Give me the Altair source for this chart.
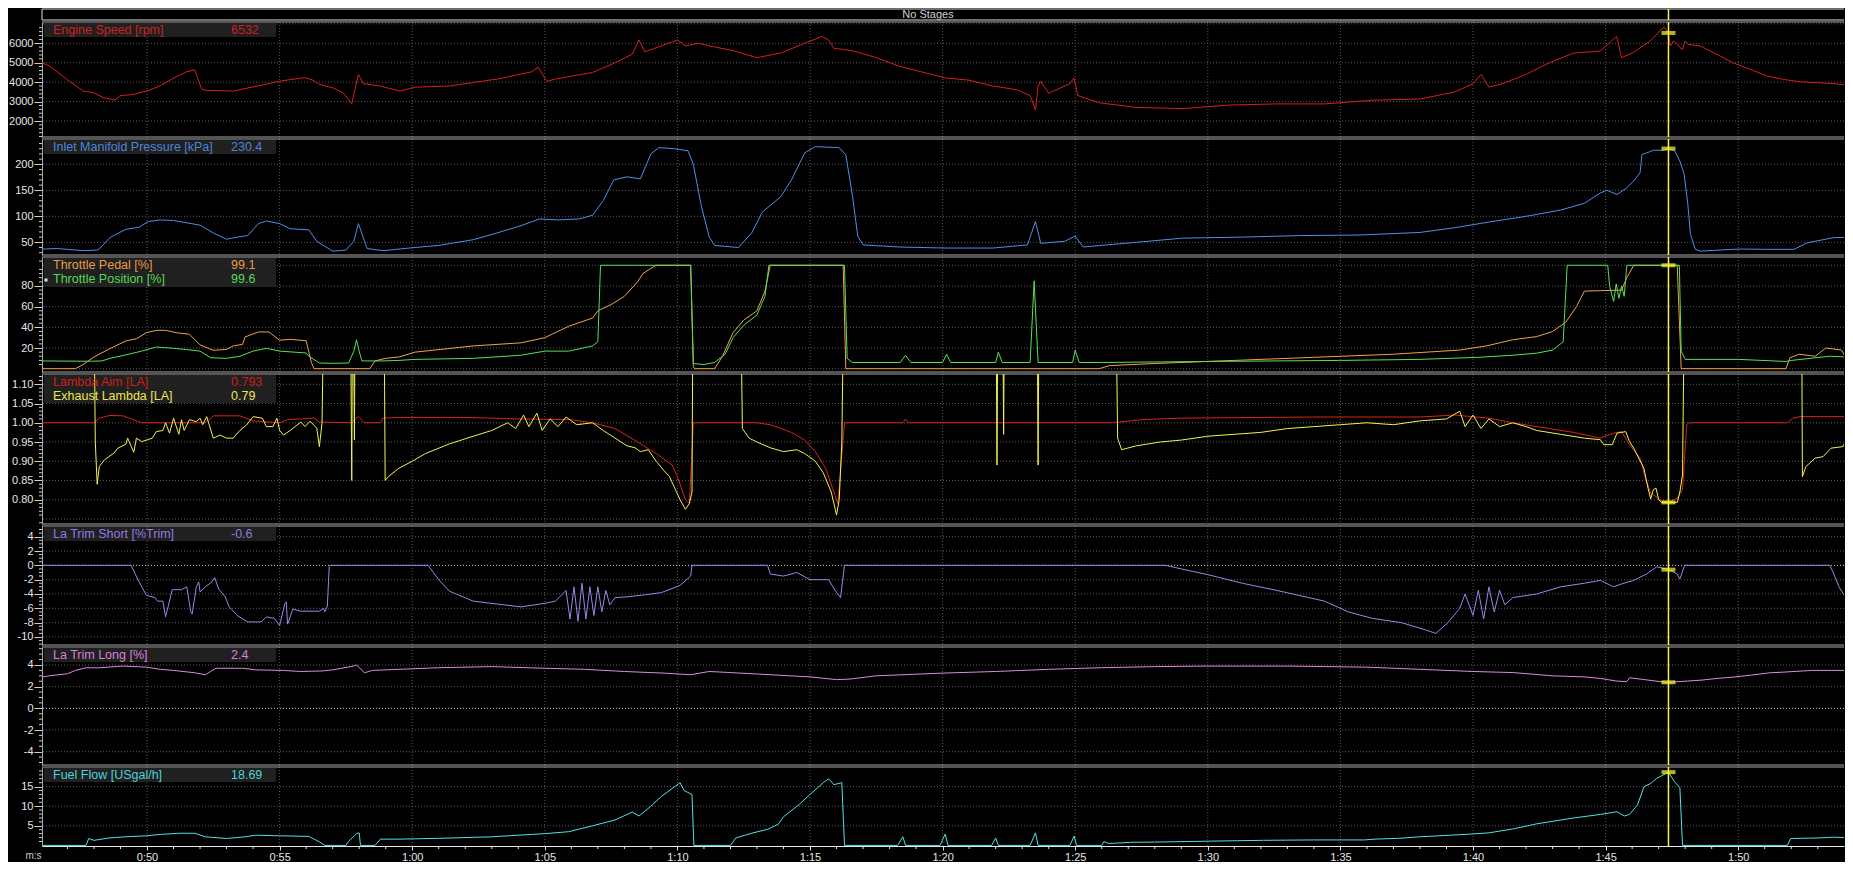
import altair as alt
import pandas as pd

# ---------------- data: (time in s, value) ----------------
RPM = [(46.04,5000),(46.34,4820),(46.97,4150),(47.6,3540),(47.98,3460),(48.36,3200),(48.8,3080),(48.98,3300),
       (49.48,3370),(49.98,3540),(50.48,3800),(50.99,4200),(51.5,4540),(51.8,4630),(52.06,3640),(52.2,3580),
       (53.25,3540),(53.8,3700),(54.5,3900),(55.0,4050),(55.5,4150),(55.96,4230),(56.26,4100),(56.5,3880),
       (57.0,3710),(57.4,3450),(57.72,2890),(57.97,4400),(58.16,3920),(58.79,3800),(59.54,3540),(60.1,3740),
       (61.4,3800),(63.2,4160),(64.5,4530),(64.75,4770),(65.07,4040),(65.4,4160),(66.8,4500),(67.65,5000),
       (68.3,5440),(68.55,6170),(68.77,5560),(69.4,5870),(70.0,6170),(70.3,5870),(70.8,6000),(71.2,5870),
       (72.1,5620),(73.0,5260),(73.9,5500),(74.8,6000),(75.45,6350),(75.7,6170),(75.9,5740),(76.6,5620),
       (77.5,5260),(78.35,4830),(79.2,4530),(80.1,4220),(81.0,4100),(81.9,3800),(82.8,3610),(83.3,3310),
       (83.5,2580),(83.6,3800),(83.7,4040),(84.0,3430),(84.8,3920),(84.95,4220),(85.1,3310),(85.9,2940),
       (87.3,2700),(89.05,2640),(90.8,2820),(92.6,2880),(94.4,2880),(96.2,3070),(98.0,3130),(99.3,3490),
       (100.0,3920),(100.3,4400),(100.6,3740),(101.1,3920),(102.0,4400),(102.9,5010),(103.8,5500),(104.8,5600),
       (105.36,6290),(105.42,6340),(105.6,5260),(106.04,5520),(106.68,6120),(107.2,6840),(107.37,6532),
       (107.44,5860),(107.56,6120),(107.7,5950),(107.8,5780),(107.9,5690),(108.0,6120),(108.1,5950),
       (108.57,5860),(109.2,5430),(109.8,5000),(110.45,4660),(111.1,4310),(111.7,4140),(112.34,4020),
       (113.0,3970),(113.6,3930),(114.34,3800)]

MAP = [(46.04,37),(46.6,38),(47.6,34),(48.1,35),(48.2,37),(48.6,59),(49.2,75),(49.7,79),(50.05,90),(50.5,93),
       (51.0,92),(52.0,83),(52.5,68),(53.0,56),(53.4,60),(53.8,63),(54.2,86),(54.5,91),(55.0,86),(55.4,76),
       (56.1,74),(56.4,52),(57.0,33),(57.5,35),(57.8,52),(57.97,86),(58.3,38),(58.9,34),(59.5,37),(60.1,40),
       (61.0,44),(62.3,55),(63.2,68),(64.1,82),(64.8,95),(65.5,93),(66.3,95),(66.8,102),(67.2,130),(67.6,170),
       (68.1,176),(68.6,172),(69.0,220),(69.3,232),(69.9,230),(70.4,226),(70.6,200),(70.9,120),(71.2,60),
       (71.4,44),(72.3,40),(72.8,68),(73.2,108),(73.9,138),(74.3,170),(74.8,222),(75.2,234),(76.1,232),
       (76.35,218),(76.6,140),(76.8,62),(77.0,45),(78.35,41),(80.1,39),(81.9,39),(83.2,45),(83.5,90),(83.7,48),
       (84.6,52),(85.0,62),(85.3,41),(86.4,46),(87.3,50),(89.05,58),(91.3,60),(93.5,63),(95.7,64),(98.0,69),
       (99.3,78),(100.6,89),(102.0,100),(103.3,112),(104.2,125),(104.8,145),(105.05,150),(105.43,142),
       (105.8,155),(106.06,168),(106.3,184),(106.37,219),(106.55,222),(106.8,227),(107.18,227),(107.37,230.4),
       (107.6,226),(107.8,206),(107.96,181),(108.1,123),(108.2,65),(108.38,36.5),(108.57,33),(109.8,36.5),
       (110.1,37),(111.1,36.5),(112.1,36.5),(112.6,49),(113.6,59),(114.1,59.5),(114.34,57)]

PEDAL = [(46.04,0),(47.3,0),(47.6,4.2),(48.0,11.3),(48.6,19.4),(49.2,26.8),(49.6,29),(49.98,34.8),(50.35,37.1),
         (50.7,37.1),(51.1,34.8),(51.6,33.3),(52.0,23),(52.5,17.8),(53.0,18.7),(53.25,22),(53.6,23.5),(53.7,30.7),
         (54.2,35.5),(54.6,35.5),(55.0,27.5),(55.4,28.4),(56.0,27),(56.2,5.8),(56.3,0),(58.4,0),(58.6,7.5),
         (59.0,10),(59.5,11.3),(60.1,16),(62.3,22),(64.1,25),(65.0,30),(65.9,41),(66.8,49),(67.0,56),(67.5,62),
         (68.0,70),(68.5,84),(68.7,92),(69.0,97),(69.2,100),(70.5,100),(70.6,2),(70.65,0),(71.4,0),(71.7,12),
         (72.1,35),(72.5,47),(73.0,56),(73.3,75),(73.5,100),(76.25,100),(76.35,0),(85.9,0),(86.3,3),(88.0,5),
         (91.0,8),(94.0,11),(97.0,14),(99.5,18),(100.5,22),(101.5,28),(102.4,31),(103.0,36),(103.5,45),
         (103.9,60),(104.2,75),(105.6,76),(105.8,88),(106.06,100),(107.7,100),(107.85,0),(111.8,0),(111.95,10.6),
         (112.3,14),(112.9,12),(113.3,20),(113.9,18),(114.1,8),(114.34,6)]

POSITION = [(46.04,7.5),(47.9,7.2),(48.3,7.5),(48.6,10),(49.2,13.3),(49.8,17),(50.35,21),(51.0,19.7),(51.5,18.5),
            (52.0,17),(52.4,10.6),(53.0,10),(53.5,12),(54.0,17),(54.5,19.7),(55.0,17),(56.0,15.2),(56.1,12),
            (56.5,5.5),(57.0,5.2),(57.6,5.5),(57.8,17),(57.9,28),(58.0,17),(58.1,7.5),(58.9,7.5),(59.5,8),
            (60.1,9),(62.3,10),(64.1,13),(65.0,17),(65.9,17),(66.8,22),(67.0,26),(67.1,100),(70.5,100),(70.6,5),
            (71.0,4),(71.4,6),(71.8,14),(72.1,30),(72.5,42),(73.0,52),(73.3,70),(73.45,100),(76.3,100),(76.4,10),
            (76.6,6),(78.4,6),(78.6,13),(78.8,6),(80.0,6),(80.15,14),(80.3,6),(82.0,6),(82.1,16),(82.25,6),
            (83.3,6),(83.45,85),(83.6,6),(84.9,6),(85.0,18),(85.15,6),(86.0,6),(90.0,7),(95.0,8),(98.0,9),
            (100.2,11),(101.5,13),(102.4,15),(103.0,18),(103.4,26),(103.55,100),(105.08,100),(105.15,80),
            (105.3,65),(105.4,82),(105.5,68),(105.6,80),(105.7,70),(105.8,100),(107.78,100),(107.85,17),
            (108.0,9),(110.0,9),(111.8,7),(112.0,8),(113.45,12),(114.34,11)]

LAMBDA_AIM = [(46.04,1.0),(48.0,1.0),(48.2,1.012),(48.6,1.019),(49.1,1.018),(49.6,1.005),(49.8,1.0),(52.2,1.0),
              (52.5,1.018),(53.5,1.018),(54.0,1.005),(55.0,1.0),(55.3,1.008),(55.8,1.01),(56.3,1.012),(56.5,1.002),
              (57.7,1.0),(57.97,1.016),(58.2,1.0),(58.8,1.0),(58.9,1.012),(59.5,1.014),(62.0,1.014),(64.0,1.01),
              (66.0,1.008),(66.8,1.0),(67.65,0.985),(68.5,0.95),(69.2,0.92),(69.6,0.9),(69.8,0.89),(70.0,0.86),
              (70.3,0.80),(70.45,0.79),(70.6,1.0),(73.0,1.0),(73.5,0.995),(74.3,0.975),(74.8,0.955),(75.2,0.925),
              (75.6,0.88),(75.9,0.82),(76.05,0.79),(76.3,1.0),(78.5,1.0),(78.6,1.01),(78.7,1.0),(86.4,1.0),
              (87.5,1.008),(89.0,1.012),(94.0,1.015),(98.0,1.015),(99.3,1.02),(100.6,1.012),(101.5,1.0),
              (102.4,0.99),(103.8,0.975),(104.8,0.96),(105.3,0.973),(105.6,0.977),(105.9,0.943),(106.3,0.908),
              (106.5,0.856),(106.7,0.817),(106.9,0.808),(107.1,0.797),(107.37,0.793),(107.7,0.804),(107.9,0.826),
              (107.96,0.89),(108.06,0.995),(108.15,1.0),(111.86,1.0),(112.05,1.012),(112.36,1.016),(114.34,1.016)]

# 1.5 = reading above the top of the scale (off the panel)
EXHAUST_LAMBDA = [(46.04,1.5),(47.97,1.5),(48.05,0.95),(48.12,0.84),(48.2,0.886),(48.4,0.904),(48.75,0.921),
                  (48.9,0.934),(49.2,0.944),(49.27,0.96),(49.5,0.923),(49.6,0.96),(49.8,0.951),(50.2,0.96),
                  (50.35,0.977),(50.6,0.98),(50.7,1.0),(50.85,0.973),(51.0,1.012),(51.2,0.97),(51.3,1.008),
                  (51.4,0.98),(51.6,1.008),(51.85,1.003),(52.0,1.012),(52.1,0.995),(52.25,1.016),(52.5,0.96),
                  (52.75,0.968),(53.0,0.96),(53.25,0.96),(53.5,0.98),(53.75,0.994),(54.0,1.016),(54.35,1.012),
                  (54.5,0.99),(54.75,0.99),(54.9,1.012),(55.0,0.98),(55.15,0.968),(55.4,0.98),(55.8,1.002),
                  (55.96,0.99),(56.15,1.004),(56.4,0.986),(56.5,0.938),(56.6,1.0),(56.7,1.5),(57.65,1.5),
                  (57.72,0.85),(57.76,1.5),(57.82,0.955),(57.86,1.5),(58.92,1.5),(58.98,0.85),(59.1,0.86),
                  (59.5,0.882),(60.0,0.9),(60.5,0.92),(61.4,0.945),(62.3,0.965),(63.0,0.98),(63.6,1.0),
                  (63.9,0.985),(64.2,1.02),(64.4,0.99),(64.7,1.025),(64.9,0.98),(65.2,1.01),(65.5,0.99),
                  (65.8,1.015),(66.2,0.995),(66.8,1.0),(67.2,0.98),(67.65,0.96),(68.1,0.94),(68.4,0.935),
                  (68.6,0.925),(68.9,0.93),(69.2,0.90),(69.5,0.875),(69.7,0.86),(70.1,0.80),(70.3,0.775),
                  (70.45,0.79),(70.55,0.82),(70.6,1.5),(72.35,1.5),(72.45,0.985),(72.7,0.96),(73.0,0.95),
                  (73.5,0.935),(74.0,0.925),(74.5,0.93),(74.8,0.92),(75.2,0.9),(75.5,0.87),(75.8,0.82),
                  (76.0,0.76),(76.1,0.80),(76.2,0.95),(76.3,1.5),(82.0,1.5),(82.05,0.89),(82.1,1.5),(82.25,1.5),
                  (82.3,0.97),(82.35,1.5),(83.55,1.5),(83.6,0.89),(83.65,1.5),(86.5,1.5),(86.6,0.96),(86.75,0.93),
                  (87.3,0.94),(88.2,0.95),(89.0,0.955),(90.0,0.965),(91.0,0.97),(92.0,0.975),(93.0,0.985),
                  (94.0,0.99),(95.0,0.995),(96.0,1.0),(97.0,0.995),(98.0,1.005),(99.0,1.01),(99.5,1.03),
                  (99.7,0.99),(100.0,1.02),(100.3,0.985),(100.6,1.01),(101.0,0.99),(101.5,1.0),(102.0,0.99),
                  (102.4,0.98),(103.3,0.97),(104.2,0.96),(104.8,0.956),(104.93,0.943),(105.25,0.943),
                  (105.43,0.973),(105.76,0.977),(105.9,0.951),(106.06,0.934),(106.25,0.908),(106.44,0.882),
                  (106.6,0.83),(106.7,0.802),(106.8,0.826),(106.9,0.83),(107.0,0.80),(107.1,0.793),(107.7,0.793),
                  (107.8,0.82),(107.9,0.865),(108.0,1.5),(112.38,1.5),(112.42,0.86),(112.55,0.886),(112.9,0.908),
                  (113.2,0.912),(113.5,0.934),(113.95,0.938),(114.15,0.969),(114.34,0.969)]

TRIM_SHORT = [(46.04,0),(49.4,0),(49.55,-1.16),(49.7,-2.3),(49.98,-4.2),(50.3,-4.5),(50.4,-5.0),(50.6,-5.0),
              (50.7,-7.2),(50.8,-5.7),(50.95,-3.4),(51.3,-3.4),(51.5,-3.0),(51.65,-6.5),(51.7,-6.8),(51.86,-3.0),
              (51.95,-2.3),(52.0,-3.7),(52.2,-3.0),(52.45,-2.3),(52.55,-1.7),(52.7,-3.3),(52.95,-4.4),(53.1,-5.8),
              (53.4,-7.0),(53.8,-7.9),(54.3,-7.9),(54.5,-7.2),(54.8,-7.4),(55.0,-8.4),(55.2,-5.3),(55.25,-5.1),
              (55.3,-8.2),(55.5,-6.1),(55.8,-6.4),(56.5,-6.4),(56.66,-6.0),(56.7,-6.5),(56.8,-5.7),(56.87,-0.2),
              (56.9,0),(60.6,0),(60.8,-1.0),(61.0,-2.0),(61.4,-3.6),(62.3,-5.0),(63.2,-5.4),(64.1,-5.8),(65.0,-5.3),
              (65.4,-5.0),(65.8,-3.5),(65.95,-7.5),(66.1,-3.0),(66.25,-7.8),(66.4,-2.5),(66.55,-7.5),(66.7,-3.0),
              (66.85,-7.0),(67.0,-3.0),(67.15,-6.5),(67.3,-3.5),(67.45,-5.5),(67.65,-4.5),(68.1,-4.4),(68.8,-4.1),
              (69.4,-3.8),(70.1,-2.8),(70.5,-1.5),(70.55,0),(73.4,0),(73.5,-1.2),(74.0,-1.5),(74.5,-1.0),
              (75.0,-2.0),(75.7,-2.0),(76.0,-3.8),(76.15,-4.5),(76.3,0),(88.4,0),(89.0,-0.5),(90.0,-1.3),
              (91.3,-2.5),(92.6,-3.5),(94.4,-5.0),(95.3,-6.5),(96.2,-7.4),(97.3,-8.0),(98.2,-9.0),(98.6,-9.5),
              (99.05,-8.0),(99.5,-6.0),(99.7,-4.0),(100.0,-7.0),(100.2,-3.5),(100.4,-7.5),(100.6,-3.0),
              (100.8,-6.5),(101.0,-3.5),(101.2,-5.5),(101.5,-4.5),(102.4,-4.0),(103.3,-3.0),(104.2,-2.5),
              (104.8,-2.1),(105.3,-3.0),(105.6,-2.6),(106.06,-2.1),(106.55,-1.2),(106.93,-0.2),(107.37,-0.6),
              (107.7,-1.2),(107.8,-1.9),(107.96,-0.2),(108.0,0),(113.45,0),(113.57,-0.9),(113.8,-3.0),
              (114.0,-4.2),(114.34,-6.0)]

TRIM_LONG = [(46.04,2.88),(46.3,3.0),(47.0,3.19),(47.3,3.5),(47.7,3.74),(48.2,3.74),(49.1,3.9),(49.98,3.8),
             (50.5,3.6),(51.0,3.5),(51.8,3.28),(52.2,3.1),(52.4,3.4),(52.6,3.7),(53.6,3.7),(54.1,3.55),(55.1,3.5),
             (55.8,3.4),(56.6,3.45),(57.0,3.55),(57.8,3.9),(57.9,4.0),(58.2,3.28),(58.5,3.5),(59.5,3.6),
             (61.0,3.75),(63.0,3.85),(65.0,3.7),(66.5,3.6),(68.0,3.4),(69.5,3.25),(70.5,3.1),(71.2,3.4),
             (72.0,3.3),(73.5,3.1),(75.0,2.9),(76.0,2.65),(76.5,2.7),(77.5,3.0),(80.0,3.25),(82.0,3.4),
             (84.0,3.6),(86.0,3.75),(88.0,3.85),(90.0,3.9),(93.0,3.9),(96.0,3.8),(98.0,3.6),(100.0,3.4),
             (101.5,3.3),(103.0,3.0),(104.2,2.9),(104.8,2.76),(105.4,2.52),(105.8,2.46),(105.9,2.82),
             (106.4,2.67),(107.2,2.42),(107.37,2.4),(108.1,2.52),(108.6,2.6),(109.2,2.76),(109.8,2.88),
             (110.5,3.07),(111.2,3.28),(111.7,3.34),(112.8,3.5),(114.34,3.5)]

FUEL = [(46.04,0),(47.7,0),(47.8,1.76),(48.0,1.3),(48.6,1.93),(49.2,2.2),(49.98,2.45),(50.5,2.8),(51.2,3.1),
        (51.8,3.1),(52.2,2.2),(53.0,1.76),(53.7,2.2),(54.1,2.6),(55.0,2.45),(56.1,2.3),(56.5,0.9),(56.7,0),
        (57.5,0),(57.6,1.0),(57.9,3.0),(58.0,3.2),(58.05,0),(58.6,0),(58.8,1.6),(59.5,1.6),(61.0,1.8),(63.0,2.2),
        (64.5,2.8),(65.0,3.0),(65.9,3.5),(66.8,5.0),(67.65,6.5),(68.3,8.5),(68.55,7.5),(69.0,10),(69.4,12.5),
        (69.9,15),(70.1,16),(70.25,14),(70.55,13),(70.62,0),(72.0,0),(72.2,1.9),(72.55,2.6),(72.85,3.2),
        (73.4,4.1),(73.8,5.4),(74.0,7.3),(74.6,10.5),(75.0,13),(75.5,16),(75.7,17),(75.9,15.5),(76.2,16),
        (76.3,0),(78.3,0),(78.5,2.2),(78.6,0),(79.9,0),(80.1,2.9),(80.2,0),(81.85,0),(82.0,1.9),(82.1,0),
        (83.3,0),(83.5,3.2),(83.6,0),(84.8,0),(84.96,2.4),(85.05,0),(86.0,0),(86.08,1.0),(86.25,0.5),
        (86.6,0.6),(87.1,0.8),(88.0,0.85),(91.1,1.2),(92.1,1.3),(94.0,1.4),(95.9,1.4),(96.3,1.6),(97.2,1.8),
        (98.0,2.2),(99.7,2.8),(100.6,3.2),(101.5,4.2),(102.4,5.5),(103.8,7.0),(104.8,7.9),(105.43,8.6),
        (105.7,7.5),(105.9,7.9),(106.2,10.3),(106.45,15.0),(106.7,15.8),(106.93,17.1),(107.37,18.69),
        (107.6,16.2),(107.8,14.7),(107.9,0),(111.85,0),(111.98,1.76),(113.0,1.9),(113.6,2.1),(114.34,1.9)]

CURSOR_T = 107.37
TIME_TICKS = [50, 55, 60, 65, 70, 75, 80, 85, 90, 95, 100, 105, 110]
TIME_MINOR = [t for t in range(47, 114) if t % 5 != 0]

# ---------------- style ----------------
FONT = "Liberation Sans"
W = 1802
PX_PER_S = 26.52
X_DOMAIN = [46.04, 46.04 + W / PX_PER_S]
GRID = "#5a5a5a"
BORDER = "#a8a8a8"
TXT = "#e6e6e6"
YEL = "#f4f45a"
BOX = "#242424"

ONE = pd.DataFrame({"k": [0]})


def df(pairs):
    return pd.DataFrame(pairs, columns=["t", "v"])


def frange(lo, hi, step):
    out, i = [], 0
    while lo + i * step <= hi + 1e-9:
        out.append(round(lo + i * step, 4))
        i += 1
    return out


def make_x(show_axis):
    sc = alt.Scale(domain=X_DOMAIN, nice=False, zero=False)
    if not show_axis:
        return alt.X("t:Q", scale=sc, axis=None)
    ax = alt.Axis(values=TIME_TICKS,
                  labelExpr="floor(datum.value/60) + ':' + (datum.value % 60 < 10 ? '0' : '') + (datum.value % 60)",
                  tickSize=4, tickColor="#e0e0e0", domainColor="#e8e8e8", labelColor=TXT,
                  labelFont=FONT, labelFontSize=11, labelPadding=1, grid=False, labelFlush=False,
                  title="m:s", titleX=-17, titleY=4, titleAlign="left", titleBaseline="top",
                  titleFontSize=10, titleFontWeight="normal", titleColor="#c8c8c8", titleFont=FONT)
    return alt.X("t:Q", scale=sc, axis=ax)


def panel(h, ydom, ylabels, ygrid, yminor, lexpr, series, texts, marker_v, box_h=15,
          zero=False, xaxis=False, square=False):
    X = make_x(xaxis)
    yax = alt.Axis(values=ylabels, labelExpr=lexpr, tickSize=8, tickColor="#d0d0d0", labelPadding=1,
                   labelFont=FONT, labelFontSize=11, labelColor=TXT, domain=True, domainColor=BORDER,
                   grid=False, labelOverlap=False, labelFlush=False)
    Y = alt.Y("v:Q", scale=alt.Scale(domain=ydom, nice=False, zero=False), axis=yax, title=None)

    layers = []
    layers.append(alt.Chart(pd.DataFrame({"t": TIME_TICKS})).mark_rule(
        color=GRID, strokeDash=[1, 2], strokeWidth=1).encode(x=X))
    layers.append(alt.Chart(pd.DataFrame({"v": ygrid})).mark_rule(
        color=GRID, strokeDash=[1, 2], strokeWidth=1).encode(y=Y))
    if zero:
        layers.append(alt.Chart(pd.DataFrame({"v": [0]})).mark_rule(
            color="#d8d8d8", strokeDash=[1, 2], strokeWidth=1).encode(y=Y))
    layers.append(alt.Chart(ONE).mark_rect(color=BOX, opacity=0.88).encode(
        x=alt.value(2), x2=alt.value(234), y=alt.value(1), y2=alt.value(box_h)))
    layers.append(alt.Chart(pd.DataFrame({"v": yminor})).mark_rule(color="#cfcfcf", strokeWidth=1).encode(
        y=Y, x=alt.value(-3), x2=alt.value(0)))
    layers.append(alt.Chart(ONE).mark_rule(color=BORDER, strokeWidth=1).encode(
        x=alt.value(0), x2=alt.value(W), y=alt.value(0)))
    if not xaxis:
        layers.append(alt.Chart(ONE).mark_rule(color=BORDER, strokeWidth=1).encode(
            x=alt.value(0), x2=alt.value(W), y=alt.value(h)))
    else:
        layers.append(alt.Chart(pd.DataFrame({"t": TIME_MINOR})).mark_rule(color="#e0e0e0", strokeWidth=1).encode(
            x=X, y=alt.value(h), y2=alt.value(h + 3)))
    for pairs, col in series:
        layers.append(alt.Chart(df(pairs)).mark_line(color=col, strokeWidth=1, clip=True).encode(x=X, y=Y))
    layers.append(alt.Chart(pd.DataFrame({"t": [CURSOR_T]})).mark_rule(color=YEL, strokeWidth=1.5).encode(x=X))
    layers.append(alt.Chart(pd.DataFrame({"t": [CURSOR_T], "v": [marker_v]})).mark_tick(
        color="#ffff30", orient="horizontal", size=14, thickness=4).encode(x=X, y=Y))
    for row, (name, val, col) in enumerate(texts):
        yb = 12 + 14 * row
        layers.append(alt.Chart(ONE).mark_text(text=name, color=col, font=FONT, fontSize=12.5, align="left",
                                               baseline="alphabetic").encode(x=alt.value(11), y=alt.value(yb)))
        layers.append(alt.Chart(ONE).mark_text(text=val, color=col, font=FONT, fontSize=12.5, align="left",
                                               baseline="alphabetic").encode(x=alt.value(189), y=alt.value(yb)))
    if square:
        layers.append(alt.Chart(ONE).mark_square(color="#e0e0e0", size=9, opacity=1).encode(
            x=alt.value(4), y=alt.value(23)))
    return alt.layer(*layers).properties(width=W, height=h)


# ---- top "No Stages" bar ----
XB = make_x(False)
BAR_H = 11
bar = alt.layer(
    alt.Chart(ONE).mark_rule(color="#dcdcdc").encode(x=alt.value(0), x2=alt.value(W), y=alt.value(0)),
    alt.Chart(ONE).mark_rule(color="#dcdcdc").encode(x=alt.value(0), x2=alt.value(W), y=alt.value(BAR_H)),
    alt.Chart(ONE).mark_rule(color="#dcdcdc").encode(x=alt.value(0), y=alt.value(0), y2=alt.value(BAR_H)),
    alt.Chart(ONE).mark_text(text="No Stages", color="#d0d0d0", font=FONT, fontSize=11, align="center",
                             baseline="middle").encode(x=alt.value(886), y=alt.value(BAR_H / 2 + 0.5)),
    alt.Chart(pd.DataFrame({"t": [CURSOR_T]})).mark_rule(color=YEL, strokeWidth=1.5).encode(x=XB),
).properties(width=W, height=BAR_H)

INT = "'' + datum.value"

p1 = panel(115, [1177, 7096], [2000, 3000, 4000, 5000, 6000], [2000, 3000, 4000, 5000, 6000, 7000],
           [v for v in frange(1200, 7000, 200) if v % 1000 != 0], INT,
           [(RPM, "#d81e1e")], [("Engine Speed [rpm]", "6532", "#cc2020")], 6532)

p2 = panel(116, [25.6, 248.7], [50, 100, 150, 200], [50, 100, 150, 200],
           [v for v in frange(30, 240, 10) if v % 50 != 0], INT,
           [(MAP, "#4f8fe4")], [("Inlet Manifold Pressure [kPa]", "230.4", "#4a86d8")], 230.4)

p3 = panel(115, [-3.2, 108], [20, 40, 60, 80], [0, 20, 40, 60, 80, 100],
           [v for v in frange(0, 104, 4) if v % 20 != 0], INT,
           [(PEDAL, "#f2a24c"), (POSITION, "#58e058")],
           [("Throttle Pedal [%]", "99.1", "#e89a48"), ("Throttle Position [%]", "99.6", "#54d854")],
           100, box_h=30, square=True)

p4 = panel(150, [0.7368, 1.1268], [0.80, 0.85, 0.90, 0.95, 1.00, 1.05, 1.10],
           [0.75, 0.80, 0.85, 0.90, 0.95, 1.00, 1.05, 1.10],
           [v for v in frange(0.74, 1.12, 0.01) if round(v * 100) % 5 != 0], "format(datum.value, '.2f')",
           [(LAMBDA_AIM, "#dc2020"), (EXHAUST_LAMBDA, "#f2f250")],
           [("Lambda Aim [LA]", "0.793", "#cc1e1e"), ("Exhaust Lambda [LA]", "0.79", "#e8e850")],
           0.793, box_h=29)

p5 = panel(119, [-11.12, 5.49], [-10, -8, -6, -4, -2, 0, 2, 4], [-10, -8, -6, -4, -2, 2, 4],
           [v for v in frange(-11, 5, 0.5) if v % 2 != 0], INT,
           [(TRIM_SHORT, "#9c86ea")], [("La Trim Short [%Trim]", "-0.6", "#9478e0")], -0.6, zero=True)

p6 = panel(118, [-5.23, 5.66], [-4, -2, 0, 2, 4], [-4, -2, 2, 4],
           [v for v in frange(-5, 5.5, 0.5) if v % 2 != 0], INT,
           [(TRIM_LONG, "#e088e6")], [("La Trim Long [%]", "2.4", "#d880dc")], 2.4, zero=True)

p7 = panel(79, [-0.15, 20.0], [5, 10, 15], [5, 10, 15],
           [v for v in frange(1, 19, 1) if v % 5 != 0], INT,
           [(FUEL, "#4fe2e2")], [("Fuel Flow [USgal/h]", "18.69", "#48d4dc")], 18.69, xaxis=True)

chart = alt.vconcat(bar, p1, p2, p3, p4, p5, p6, p7, spacing=2, bounds="flush").properties(
    padding=0, background="#000000"
).configure_view(strokeWidth=0)

chart.save("out.html", embed_options={"renderer": "svg", "actions": False})
